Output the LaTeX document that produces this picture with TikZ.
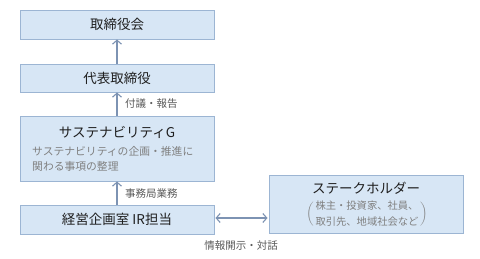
\documentclass[tikz,border=0pt]{standalone}
\usepackage{fontspec}
\setmainfont{Noto Sans CJK JP}
\usetikzlibrary{arrows.meta,calc}
\definecolor{boxfill}{HTML}{D7E6F5}
\definecolor{boxline}{HTML}{9CB5D3}
\definecolor{arr}{HTML}{7D93B3}
\definecolor{titletext}{HTML}{1F1F1F}
\definecolor{subtext}{HTML}{808080}
\definecolor{labtext}{HTML}{595959}
\tikzset{
  box/.style={draw=boxline, fill=boxfill, line width=0.9pt, minimum width=194pt, inner sep=0pt},
  title/.style={text=titletext, font=\fontsize{13.5}{16}\selectfont, inner sep=0pt},
  sub/.style={text=subtext, font=\fontsize{10.8}{15}\selectfont, inner sep=0pt, align=left},
  lab/.style={text=labtext, font=\fontsize{10.5}{13}\selectfont, inner sep=0pt},
  conn/.style={draw=arr, line width=1.1pt, -{Straight Barb[length=4pt,width=9pt]}},
}
\begin{document}
\begin{tikzpicture}[x=1pt,y=-1pt]
\useasboundingbox (0,0) rectangle (480,259);
\node[box, minimum height=29pt] (b1) at (117,24.5) {};
\node[title] (t1) at (b1) {取締役会};
\node[box, minimum height=28pt] (b2) at (117,78) {};
\node[title] (t2) at (b2) {代表取締役};
\node[box, minimum height=65pt] (b3) at (117,148.5) {};
\node[title] (t3) at (117,132) {サステナビリティG};
\node[sub, anchor=west] (s3) at (32,159) {サステナビリティの企画・推進に\\関わる事項の整理};
\node[box, minimum height=29pt] (b4) at (117,219.5) {};
\node[title] (t4) at (b4) {経営企画室 IR担当};
\node[box, minimum height=58pt] (b5) at (366,204) {};
\node[title] (t5) at (366,188.5) {ステークホルダー};
\node[text=subtext, inner sep=0pt] (s5) at (367,214) {$\bigg(\vcenter{\hbox{\fontsize{10.3}{16.5}\selectfont\begin{tabular}{@{\,}c@{\,}}株主・投資家、社員、\\取引先、地域社会など\end{tabular}}}\bigg)$};
\draw[conn] (b2.north) -- (b1.south);
\draw[conn] (b3.north) -- (b2.south);
\draw[conn] (b4.north) -- (b3.south);
\draw[conn, {Straight Barb[length=4pt,width=9pt]}-{Straight Barb[length=4pt,width=9pt]}] ($(b4.east)+(1,-1.5)$) -- ($(b4.east -| b5.west)+(-1,-1.5)$);
\node[lab, anchor=west] (l1) at (125,104) {付議・報告};
\node[lab, anchor=west] (l2) at (125,194) {事務局業務};
\node[lab] (l3) at (241,246) {情報開示・対話};
\end{tikzpicture}
\end{document}
